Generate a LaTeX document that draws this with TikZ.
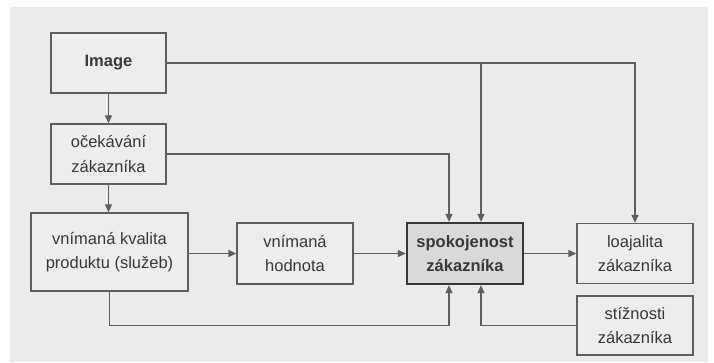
\documentclass[tikz,border=0pt]{standalone}
\usepackage{fontspec}
\setmainfont{Liberation Sans}
\usetikzlibrary{arrows.meta}
\definecolor{panel}{HTML}{EBEBEB}
\definecolor{boxfill}{HTML}{EDEDED}
\definecolor{keyfill}{HTML}{D9D9D9}
\definecolor{linec}{HTML}{5E5E5E}
\definecolor{textc}{HTML}{383838}
\begin{document}
\begin{tikzpicture}[x=1pt,y=-1pt,
  box/.style={draw=linec,line width=1.3pt,fill=boxfill,text=textc,align=center,inner sep=0pt,
    font=\fontsize{16.5}{24.5}\selectfont},
  keybox/.style={box,draw=textc,line width=2.3pt,fill=keyfill,font=\fontsize{16.5}{24.5}\selectfont\bfseries},
  arr/.style={draw=linec,line width=1.3pt,-{Triangle[length=8pt,width=7pt]}},
  ln/.style={draw=linec,line width=1.3pt}]
\useasboundingbox (0,0) rectangle (714,363);
\fill[white] (0,0) rectangle (714,363);
\fill[panel] (10,7) rectangle (708,362);
\node[box,minimum width=115pt,minimum height=60pt] (img) at (108.5,63) {\textbf{Image}};
\node[box,minimum width=115pt,minimum height=60pt] (oc) at (108.5,154) {očekávání\\zákazníka};
\node[box,minimum width=157pt,minimum height=78pt] (kval) at (109.5,252) {vnímaná kvalita\\produktu (služeb)};
\node[box,minimum width=116pt,minimum height=61pt] (hod) at (295,253.5) {vnímaná\\hodnota};
\node[keybox,minimum width=116pt,minimum height=61pt] (spok) at (465,253.5) {spokojenost\\zákazníka};
\node[box,minimum width=116pt,minimum height=60pt] (loaj) at (635,253.5) {loajalita\\zákazníka};
\node[box,minimum width=116pt,minimum height=59pt] (stiz) at (635,325.5) {stížnosti\\zákazníka};
\draw[arr] (img.south) -- (oc.north);
\draw[arr] (oc.south) -- (oc.south |- kval.north);
\draw[arr] (hod.west -| kval.east) -- (hod.west);
\draw[arr] (hod.east) -- (spok.west);
\draw[arr] (spok.east) -- (loaj.west);
\draw[arr] (img.east) -| (loaj.north);
\draw[arr] ([xshift=16pt]spok.north |- img.east) -- ([xshift=16pt]spok.north);
\draw[arr] (oc.east) -| ([xshift=-16pt]spok.north);
\draw[arr] (kval.south) -- (kval.south |- stiz.west) -| ([xshift=-16pt]spok.south);
\draw[arr] (stiz.west) -| ([xshift=16pt]spok.south);
\end{tikzpicture}
\end{document}
